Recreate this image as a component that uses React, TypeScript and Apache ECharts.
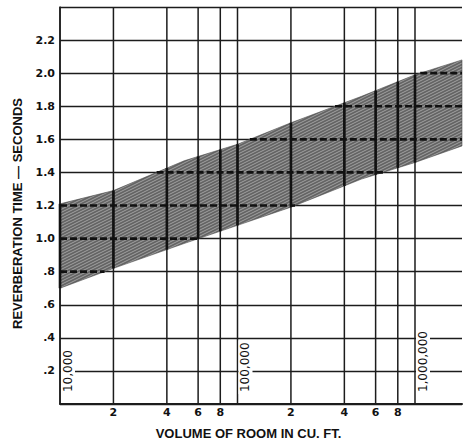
import React, { useEffect, useRef } from 'react';
import * as echarts from 'echarts';

// ---- data ----
const yTickValues = [0.2, 0.4, 0.6, 0.8, 1.0, 1.2, 1.4, 1.6, 1.8, 2.0, 2.2];
const yTickLabels = ['.2', '.4', '.6', '.8', '1.0', '1.2', '1.4', '1.6', '1.8', '2.0', '2.2'];
const minorGridVolumes = [20000, 40000, 60000, 80000, 200000, 400000, 600000, 800000];
const minorGridLabels = ['2', '4', '6', '8', '2', '4', '6', '8'];
const decadeVolumes = [10000, 100000, 1000000];
const decadeLabels = ['10,000', '100,000', '1,000,000'];
const bandVolume = [10000, 20000, 50000, 100000, 200000, 500000, 1000000, 1840000];
const bandUpper = [1.21, 1.29, 1.47, 1.57, 1.7, 1.86, 1.99, 2.08];
const bandLower = [0.7, 0.82, 0.97, 1.08, 1.19, 1.36, 1.46, 1.56];

const X_MIN = 10000;
const X_MAX = 1840000;
const Y_MIN = 0;
const Y_MAX = 2.4;
const Y_INTERVAL = 0.2;

function makePattern() {
  const c = document.createElement('canvas');
  c.width = 6;
  c.height = 3;
  const ctx = c.getContext('2d');
  if (!ctx) return '#808080';
  ctx.fillStyle = '#646464';
  ctx.fillRect(0, 0, 6, 3);
  ctx.strokeStyle = '#b0b0b0';
  ctx.lineWidth = 0.8;
  for (let k = -1; k <= 1; k++) {
    ctx.beginPath();
    ctx.moveTo(-1, 3.5 + k * 3);
    ctx.lineTo(7, -0.5 + k * 3);
    ctx.stroke();
  }
  return { image: c.toDataURL(), repeat: 'repeat', imageWidth: 6, imageHeight: 3 } as any;
}

function xAtY(pts: number[][], y: number): number | null {
  for (let i = 0; i < pts.length - 1; i++) {
    const a = pts[i], b = pts[i + 1];
    if ((a[1] - y) * (b[1] - y) <= 0 && a[1] !== b[1]) {
      return a[0] + ((y - a[1]) / (b[1] - a[1])) * (b[0] - a[0]);
    }
  }
  return null;
}
function yAtX(pts: number[][], x: number): number | null {
  for (let i = 0; i < pts.length - 1; i++) {
    const a = pts[i], b = pts[i + 1];
    if (x >= a[0] && x <= b[0] && a[0] !== b[0]) {
      return a[1] + ((x - a[0]) / (b[0] - a[0])) * (b[1] - a[1]);
    }
  }
  return null;
}

export default function App() {
  const ref = useRef<HTMLDivElement>(null);
  useEffect(() => {
    if (!ref.current) return;
    const chart = echarts.init(ref.current, undefined, { renderer: 'svg' });
    const pattern = makePattern();

    const renderItem = (params: any, api: any) => {
      if (params.dataIndex !== 0) return null;
      const up = bandVolume.map((v, i) => api.coord([v, bandUpper[i]]));
      const lo = bandVolume.map((v, i) => api.coord([v, bandLower[i]]));
      const children: any[] = [];
      children.push({
        type: 'polygon',
        shape: { points: [...up, ...lo.slice().reverse()] },
        style: { fill: pattern, stroke: 'rgba(70,70,70,0.7)', lineWidth: 0.8 },
      });
      const left = up[0][0];
      const right = up[up.length - 1][0];
      // dashed grid lines inside the band
      yTickValues.forEach((level) => {
        const py = api.coord([X_MIN, level])[1];
        let start = xAtY(up, py);
        if (start === null) start = up[0][1] <= py ? left : null;
        let end = xAtY(lo, py);
        if (end === null) end = lo[lo.length - 1][1] >= py ? right : null;
        if (start === null || end === null || end <= start) return;
        children.push({
          type: 'line',
          shape: { x1: start, y1: py, x2: end, y2: py },
          style: { stroke: '#111', lineWidth: 2.6, lineDash: [7, 3] },
        });
      });
      // vertical grid lines
      const verticals = [...decadeVolumes, ...minorGridVolumes];
      verticals.forEach((v) => {
        const pb = api.coord([v, Y_MIN]);
        const pt = api.coord([v, Y_MAX]);
        children.push({
          type: 'line',
          shape: { x1: pb[0], y1: pb[1], x2: pt[0], y2: pt[1] },
          style: { stroke: '#1c1c1c', lineWidth: 1.5 },
        });
        const yu = yAtX(up, pb[0]);
        const yl = yAtX(lo, pb[0]);
        if (yu !== null && yl !== null) {
          children.push({
            type: 'line',
            shape: { x1: pb[0], y1: yu, x2: pb[0], y2: yl },
            style: { stroke: '#111', lineWidth: 2.6 },
          });
        }
      });
      // minor labels below axis
      minorGridVolumes.forEach((v, i) => {
        const p = api.coord([v, Y_MIN]);
        children.push({
          type: 'text',
          x: p[0],
          y: p[1] + 3,
          style: {
            text: minorGridLabels[i],
            fill: '#111',
            fontSize: 11,
            fontWeight: 'bold',
            fontFamily: 'DejaVu Sans',
            align: 'center',
            verticalAlign: 'top',
          },
        });
      });
      // decade labels inside plot, rotated
      decadeVolumes.forEach((v, i) => {
        const p = api.coord([v, 0.06]);
        children.push({
          type: 'text',
          x: p[0] + 1,
          y: p[1],
          rotation: Math.PI / 2,
          style: {
            text: decadeLabels[i],
            fill: '#111',
            fontSize: 12,
            fontFamily: 'DejaVu Sans',
            align: 'left',
            verticalAlign: 'top',
            backgroundColor: '#fff',
            padding: [1, 2, 1, 2],
          },
        });
      });
      return { type: 'group', children };
    };

    chart.setOption({
      animation: false,
      backgroundColor: '#fff',
      grid: { left: 60, right: 1, top: 7, bottom: 38 },
      xAxis: {
        type: 'log',
        logBase: 10,
        min: X_MIN,
        max: X_MAX,
        axisLine: { show: true, lineStyle: { color: '#1c1c1c', width: 2 } },
        axisTick: { show: false },
        axisLabel: { show: false },
        splitLine: { show: false },
        name: 'VOLUME OF ROOM IN CU. FT.',
        nameLocation: 'middle',
        nameGap: 23,
        nameTextStyle: {
          fontFamily: 'Liberation Sans',
          fontWeight: 'bold',
          fontSize: 13,
          color: '#111',
          padding: [0, 25, 0, 0],
        },
      },
      yAxis: {
        type: 'value',
        min: Y_MIN,
        max: Y_MAX,
        interval: Y_INTERVAL,
        axisLine: { show: true, lineStyle: { color: '#1c1c1c', width: 1.5 } },
        axisTick: { show: false },
        splitLine: { show: true, lineStyle: { color: '#1c1c1c', width: 1.4 } },
        axisLabel: {
          margin: 5,
          color: '#111',
          fontFamily: 'DejaVu Sans',
          fontWeight: 'bold',
          fontSize: 11,
          formatter: (v: number) => {
            const i = yTickValues.findIndex((t) => Math.abs(t - v) < 1e-6);
            return i >= 0 ? yTickLabels[i] : '';
          },
        },
        name: 'REVERBERATION TIME — SECONDS',
        nameLocation: 'middle',
        nameGap: 36,
        nameTextStyle: {
          fontFamily: 'Liberation Sans',
          fontWeight: 'bold',
          fontSize: 13,
          color: '#111',
          padding: [0, 16, 0, 0],
        },
      },
      series: [
        {
          type: 'custom',
          clip: false,
          renderItem,
          data: [[X_MIN, Y_MIN]],
          silent: true,
        },
      ],
    });
    return () => chart.dispose();
  }, []);
  return (
    <div
      ref={ref}
      style={{ position: 'fixed', left: 0, top: 0, width: 463, height: 445, background: '#fff' }}
    />
  );
}
